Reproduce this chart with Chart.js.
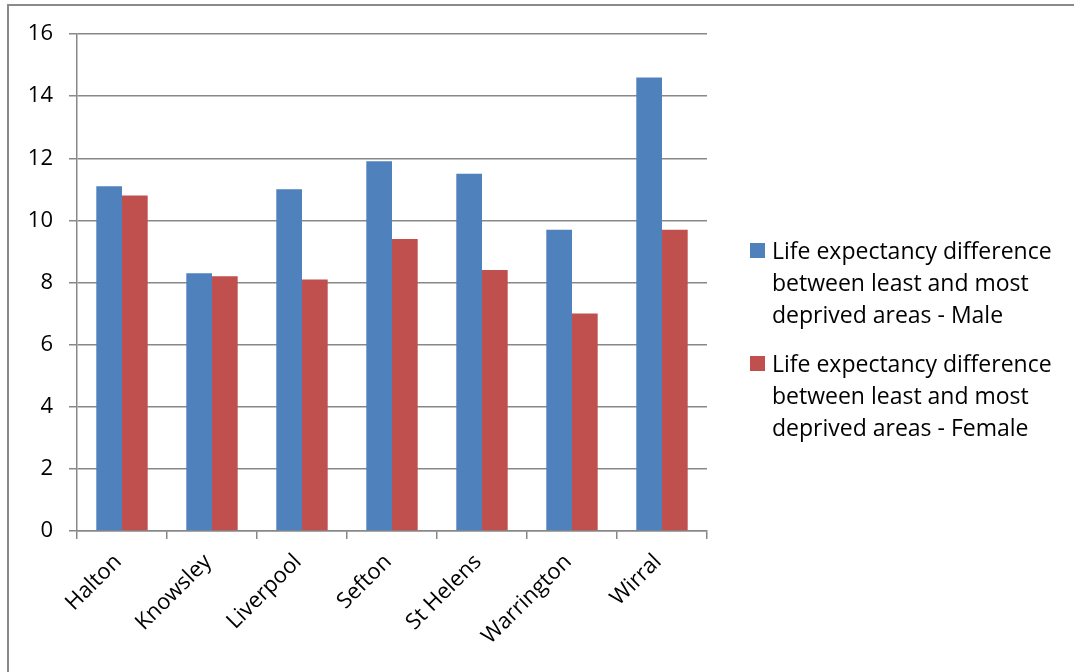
<!DOCTYPE html>
<html>
<head>
<meta charset="utf-8">
<script src="https://cdn.jsdelivr.net/npm/chart.js@4"></script>
<style>
  html, body { margin: 0; padding: 0; background: #fff; }
  #wrap { position: relative; width: 1074px; height: 672px; overflow: hidden; }
  #frame { position: absolute; left: 7px; top: 4px; width: 1100px; height: 700px;
           border-top: 2px solid #8a8a8a; border-left: 2px solid #8a8a8a; pointer-events: none; }
  #chart { position: absolute; left: 0; top: 0; }
  #legend { position: absolute; left: 750px; top: 0; font-family: "Open Sans", sans-serif;
            font-size: 23px; line-height: 32px; color: #000; }
  .item { position: absolute; left: 0; white-space: nowrap; }
  .box { position: absolute; left: 0; top: 9px; width: 15px; height: 15px; }
  .txt { position: absolute; left: 22px; top: 0; }
</style>
</head>
<body>
<div id="wrap">
  <canvas id="chart" width="1074" height="672"></canvas>
  <div id="frame"></div>
  <div id="legend"></div>
</div>
<script>
const areas = ['Halton', 'Knowsley', 'Liverpool', 'Sefton', 'St Helens', 'Warrington', 'Wirral'];
const maleGap = [11.1, 8.3, 11.0, 11.9, 11.5, 9.7, 14.6];
const femaleGap = [10.8, 8.2, 8.1, 9.4, 8.4, 7.0, 9.7];
const maleLabel = ['Life expectancy difference', 'between least and most', 'deprived areas - Male'];
const femaleLabel = ['Life expectancy difference', 'between least and most', 'deprived areas - Female'];
const yTicks = [0, 2, 4, 6, 8, 10, 12, 14, 16];

const gridGrey = '#888888';
const fontFamily = '"Open Sans", sans-serif';

const ctx = document.getElementById('chart').getContext('2d');

const chart = new Chart(ctx, {
    type: 'bar',
    data: {
        labels: areas,
        datasets: [
            { label: maleLabel.join(' '), lines: maleLabel, data: maleGap, backgroundColor: '#4f81bd' },
            { label: femaleLabel.join(' '), lines: femaleLabel, data: femaleGap, backgroundColor: '#c0504d' }
        ]
    },
    options: {
        responsive: false,
        animation: false,
        events: [],
        categoryPercentage: 0.571,
        barPercentage: 1.0,
        layout: { padding: { left: 0, top: 34, right: 367, bottom: 0 } },
        plugins: {
            legend: { display: false },
            tooltip: { enabled: false }
        },
        scales: {
            y: {
                min: 0,
                max: 16,
                afterFit: (scale) => { scale.width = 77; },
                afterBuildTicks: (scale) => { scale.ticks = yTicks.map(v => ({ value: v })); },
                grid: { color: gridGrey, lineWidth: 1.5, drawTicks: true, tickLength: 8 },
                border: { color: gridGrey, width: 1.5 },
                ticks: { color: '#000', padding: 16, font: { family: fontFamily, size: 22 } }
            },
            x: {
                afterFit: (scale) => { scale.height = 141; },
                grid: { drawOnChartArea: false, drawTicks: true, tickLength: 8, lineWidth: 1.5, color: gridGrey, offset: true },
                border: { color: gridGrey, width: 1.5 },
                ticks: {
                    color: '#000', minRotation: 45, maxRotation: 45, autoSkip: false,
                    padding: 10, labelOffset: -4,
                    font: { family: fontFamily, size: 22 }
                }
            }
        }
    }
});

// legend on the right, built from the datasets
const legend = document.getElementById('legend');
const tops = [234, 347];
chart.data.datasets.forEach((ds, i) => {
    const item = document.createElement('div');
    item.className = 'item';
    item.style.top = tops[i] + 'px';
    const box = document.createElement('div');
    box.className = 'box';
    box.style.background = ds.backgroundColor;
    const txt = document.createElement('div');
    txt.className = 'txt';
    txt.innerHTML = ds.lines.join('<br>');
    item.appendChild(box);
    item.appendChild(txt);
    legend.appendChild(item);
});
</script>
</body>
</html>
